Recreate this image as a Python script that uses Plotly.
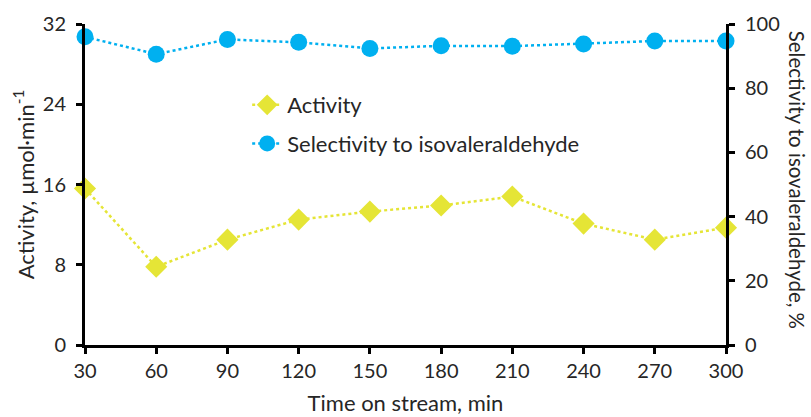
import plotly.graph_objects as go

time_min = [30, 60, 90, 120, 150, 180, 210, 240, 270, 300]
activity = [15.6, 7.8, 10.5, 12.5, 13.3, 13.9, 14.8, 12.1, 10.5, 11.7]
selectivity = [96.0, 90.6, 95.2, 94.3, 92.4, 93.2, 93.1, 93.8, 94.7, 94.7]
x_ticks = [30, 60, 90, 120, 150, 180, 210, 240, 270, 300]
y1_ticks = [0, 8, 16, 24, 32]
y2_ticks = [0, 20, 40, 60, 80, 100]

FONT = "Lato"
TXT = "#262626"
YEL = "#E5E536"
BLU = "#00B0F0"

fig = go.Figure()
fig.add_trace(go.Scatter(
    x=time_min, y=activity, name="Activity", mode="lines+markers",
    line=dict(color=YEL, width=2.5, dash="dot"),
    marker=dict(symbol="diamond", size=17, color=YEL),
    cliponaxis=False, legendgroup="a", yaxis="y"))
fig.add_trace(go.Scatter(
    x=time_min, y=selectivity, name="Selectivity to isovaleraldehyde", mode="lines+markers",
    line=dict(color=BLU, width=2.5, dash="dot"),
    marker=dict(symbol="circle", size=17, color=BLU),
    cliponaxis=False, legendgroup="b", yaxis="y2"))

axis_common = dict(showline=True, linecolor="black", linewidth=3, ticks="outside",
                   ticklen=6, tickwidth=3, tickcolor="black", showgrid=False, zeroline=False,
                   automargin=False,
                   tickfont=dict(family=FONT, size=20, color=TXT))

fig.update_layout(
    width=811, height=417,
    margin=dict(l=85, r=85, t=24, b=72, autoexpand=False),
    paper_bgcolor="white", plot_bgcolor="white",
    font=dict(family=FONT, size=20, color=TXT),
    xaxis=dict(range=[30, 300], tickvals=x_ticks, **axis_common,
               title=dict(text="Time on stream, min", font=dict(family=FONT, size=22, color=TXT), standoff=15)),
    yaxis=dict(range=[0, 32], tickvals=y1_ticks, ticklabelstandoff=6, **axis_common,
               title=dict(text="Activity, µmol·min<sup>-1</sup>", font=dict(family=FONT, size=22, color=TXT), standoff=3)),
    yaxis2=dict(range=[0, 100], tickvals=y2_ticks, overlaying="y", side="right",
                ticklabelstandoff=6, **axis_common),
    legend=dict(x=0.253, y=0.813, xanchor="left", yanchor="top", bgcolor="rgba(0,0,0,0)",
                font=dict(family=FONT, size=22, color=TXT), traceorder="grouped",
                tracegroupgap=7),
    showlegend=True,
    annotations=[dict(text="Selectivity to isovaleraldehyde, %", textangle=90,
                      xref="paper", yref="paper", x=1, y=0.515, xshift=71, xanchor="center",
                      showarrow=False, font=dict(family=FONT, size=20.5, color=TXT))],
)

fig.write_html("out.html")
